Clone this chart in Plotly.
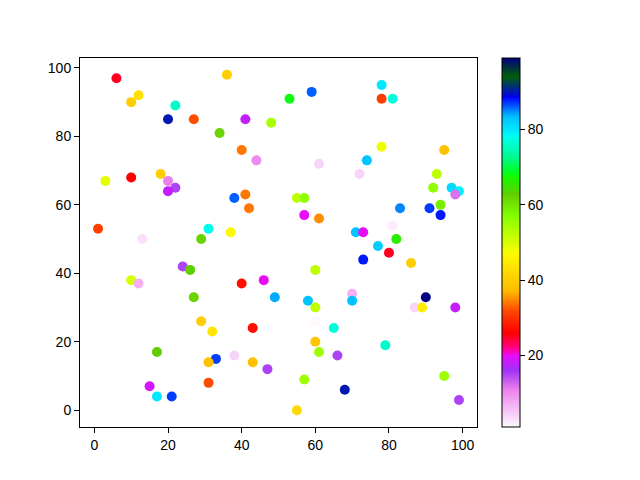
import numpy as np
import plotly.graph_objects as go

# scatter data
x = [6, 36, 12, 10, 22, 20, 27, 41, 48, 34, 40, 44, 3, 10, 18, 20, 22, 20, 38, 41,
     42, 1, 13, 31, 37, 29, 78, 53, 59, 78, 81, 78, 95, 74, 61, 72, 93, 92, 97, 99,
     98, 55, 57, 94, 83, 91, 94, 57, 61, 71, 73, 81, 82, 77, 24, 26, 10, 12, 40, 46,
     49, 27, 29, 32, 43, 17, 33, 31, 38, 43, 47, 31, 15, 17, 21, 80, 73, 86, 60, 58,
     70, 70, 90, 87, 89, 98, 60, 60, 65, 60, 61, 66, 79, 57, 68, 95, 99, 55]
y = [97, 98, 92, 90, 89, 85, 85, 85, 84, 81, 76, 73, 67, 68, 69, 67, 65, 64, 62, 63,
     59, 53, 50, 53, 52, 50, 95, 91, 93, 91, 91, 77, 76, 73, 72, 69, 69, 65, 65, 64,
     63, 62, 62, 60, 59, 59, 57, 57, 56, 52, 52, 54, 50, 48, 42, 41, 38, 37, 37, 38,
     33, 33, 26, 23, 24, 17, 15, 14, 16, 14, 12, 8, 7, 4, 4, 46, 44, 43, 41, 32,
     34, 32, 33, 30, 30, 30, 30, 26, 24, 20, 17, 16, 19, 9, 6, 10, 3, 0]
colors = [25, 40, 43, 40, 76, 90, 32, 18, 54, 62, 34, 10, 49, 26, 40, 11, 15, 18, 86, 34,
          34, 31, 3, 78, 47, 62, 80, 68, 86, 31, 77, 48, 38, 83, 4, 4, 52, 56, 81, 79,
          12, 52, 56, 59, 85, 87, 88, 20, 35, 83, 20, 2, 66, 82, 15, 63, 50, 7, 27, 20,
          84, 62, 40, 44, 27, 63, 87, 38, 4, 38, 15, 32, 19, 80, 87, 25, 88, 40, 52, 83,
          7, 83, 99, 4, 45, 18, 52, 1, 77, 39, 55, 15, 76, 55, 90, 55, 15, 42]

# gist_ncar channel breakpoints, used reversed
red_pts = [(0, 0), (0.3098, 0), (0.3725, 0.3993), (0.4235, 0.5003), (0.5333, 1),
           (0.7922, 1), (0.8471, 0.6218), (0.898, 0.9235), (1, 0.9961)]
green_pts = [(0, 0), (0.051, 0.3722), (0.1059, 0), (0.1569, 0.7202), (0.1608, 0.7537),
             (0.1647, 0.7752), (0.2157, 1), (0.2588, 0.9804), (0.2706, 0.9804),
             (0.3176, 1), (0.3686, 0.8081), (0.4275, 1), (0.5216, 1), (0.6314, 0.7292),
             (0.6863, 0.2796), (0.7451, 0), (0.7922, 0), (0.8431, 0.1753),
             (0.898, 0.5), (1, 0.9725)]
blue_pts = [(0, 0.502), (0.051, 0.0222), (0.1098, 1), (0.2039, 1), (0.2627, 0.6145),
            (0.3216, 0), (0.7451, 0), (0.7843, 0.5), (0.8078, 1), (0.898, 0.93),
            (1, 0.9961)]


def interp(pts, q):
    return np.interp(q, [p[0] for p in pts], [p[1] for p in pts])


qs = sorted({p[0] for pts in (red_pts, green_pts, blue_pts) for p in pts})
colorscale = []
for q in reversed(qs):
    r, g, b = (int(round(255 * interp(pts, q))) for pts in (red_pts, green_pts, blue_pts))
    colorscale.append([round(1 - q, 4), f"rgb({r},{g},{b})"])

fig = go.Figure(go.Scatter(
    x=x, y=y, mode="markers",
    marker=dict(
        color=colors, colorscale=colorscale, size=10,
        line=dict(width=0),
        colorbar=dict(
            x=1.063, xanchor="left", xpad=0, y=0, yanchor="bottom", ypad=0,
            len=1, lenmode="fraction", thickness=18,
            outlinewidth=1, outlinecolor="black",
            ticks="outside", ticklen=5, tickcolor="black",
            tickvals=[20, 40, 60, 80],
            tickfont=dict(size=14, color="black"),
        ),
    ),
))

axis_style = dict(
    showgrid=False, zeroline=False, showline=True, mirror=True,
    linecolor="black", linewidth=1, ticks="outside", ticklen=5,
    tickcolor="black", tickfont=dict(size=14, color="black"),
)
fig.update_xaxes(range=[-3.9, 103.9], tickvals=[0, 20, 40, 60, 80, 100], **axis_style)
fig.update_yaxes(range=[-4.9, 102.9], tickvals=[0, 20, 40, 60, 80, 100], **axis_style)

fig.update_layout(
    width=640, height=480,
    margin=dict(l=72, r=171, t=50, b=61),
    paper_bgcolor="white", plot_bgcolor="white",
    font=dict(family="Liberation Sans, DejaVu Sans, sans-serif"),
    showlegend=False,
)

fig.write_html("out.html")
